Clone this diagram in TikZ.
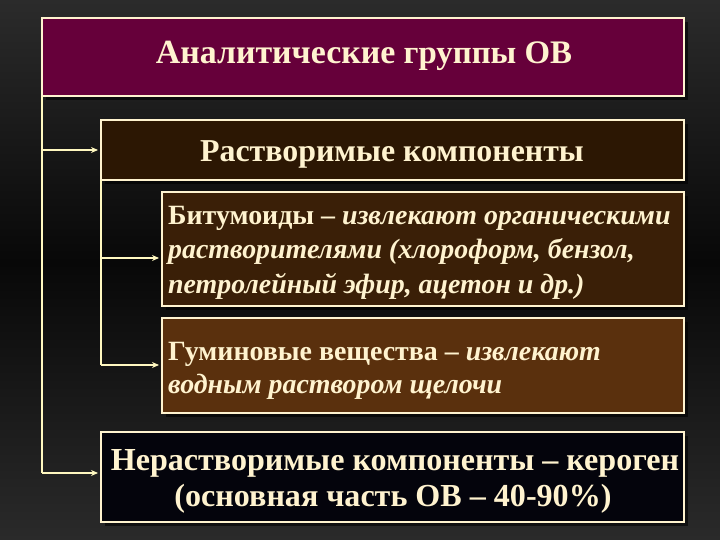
\documentclass[tikz,border=0pt]{standalone}
\usepackage{fontspec}
\setmainfont{Liberation Serif}
\usetikzlibrary{arrows.meta}
\definecolor{bgtop}{HTML}{2B2B2B}
\definecolor{bgmid}{HTML}{080808}
\definecolor{bgbot}{HTML}{2A2A2A}
\definecolor{cream}{HTML}{FFF3CF}
\definecolor{linec}{HTML}{FFF8C0}
\definecolor{titlefill}{HTML}{66003A}
\definecolor{solfill}{HTML}{2C1703}
\definecolor{bitfill}{HTML}{3A1F07}
\definecolor{humfill}{HTML}{5A300D}
\definecolor{kerfill}{HTML}{04040C}
\tikzset{
  box/.style={draw=cream, line width=1.3bp},
  txt/.style={text=cream, inner sep=0pt},
  midtxt/.style={txt, font=\bfseries\fontsize{28}{34}\selectfont, anchor=base west},
  bigtxt/.style={txt, font=\bfseries\fontsize{32.2}{38}\selectfont, anchor=base},
  conn/.style={draw=linec, line width=1.6bp},
  arr/.style={conn, -{Stealth[length=7bp,width=6bp]}},
}
\begin{document}
\begin{tikzpicture}[x=1bp,y=-1bp]
\useasboundingbox (0,0) rectangle (720,540);
\fill[bgtop] (0,0) rectangle (720,540);
\shade[top color=bgtop, bottom color=bgmid] (0,0) rectangle (720,262);
\shade[top color=bgmid, bottom color=bgbot] (0,262) rectangle (720,540);
% shadows
\foreach \a/\b/\c/\d in {42/18/684/96, 101/120/684/180, 162/192/684/306, 162/318/684/413, 101/432/684/522}{
  \fill[black, opacity=0.6] (\a+4,\b+4) rectangle (\c+4,\d+4);
}
% boxes
\path[box, fill=titlefill] (42,18) rectangle (684,96);
\path[box, fill=solfill] (101,120) rectangle (684,180);
\path[box, fill=bitfill] (162,192) rectangle (684,306);
\path[box, fill=humfill] (162,318) rectangle (684,413);
\path[box, fill=kerfill] (101,432) rectangle (684,522);
% named anchors for boxes
\coordinate (titleB) at (42,96);
\coordinate (solL) at (98,150);
\coordinate (solB) at (101,180);
\coordinate (bitL) at (159,258);
\coordinate (humL) at (159,365);
\coordinate (kerL) at (98,473);
% texts
\node[txt, anchor=base, font=\bfseries\fontsize{33}{36}\selectfont] (title) at (364,64) {{\fontsize{34}{38}\selectfont Аналитические} группы ОВ};
\node[txt, anchor=base, font=\bfseries\fontsize{32}{36}\selectfont] (sol) at (392,162) {Растворимые компоненты};
\node[midtxt] (bit1) at (168,225) {Битумоиды – \textit{извлекают органическими}};
\node[midtxt] (bit2) at (168,259) {\textit{растворителями (хлороформ, бензол,}};
\node[midtxt] (bit3) at (168,293) {\textit{петролейный эфир, ацетон и др.)}};
\node[midtxt] (hum1) at (168,360) {Гуминовые вещества – \textit{извлекают}};
\node[midtxt] (hum2) at (168,393) {\textit{водным раствором щелочи}};
\node[bigtxt] (ker1) at (395,470) {Нерастворимые компоненты – кероген};
\node[bigtxt] (ker2) at (393,506) {(основная часть ОВ – 40-90\%)};
% connectors
\coordinate (v1a) at (42,150);
\coordinate (v1b) at (42,473);
\coordinate (v2a) at (101,258);
\coordinate (v2b) at (101,365);
\draw[conn] (titleB) -- (v1b);
\draw[arr] (v1a) -- (solL);
\draw[arr] (v1b) -- (kerL);
\draw[conn] (solB) -- (v2b);
\draw[arr] (v2a) -- (bitL);
\draw[arr] (v2b) -- (humL);
\end{tikzpicture}
\end{document}
